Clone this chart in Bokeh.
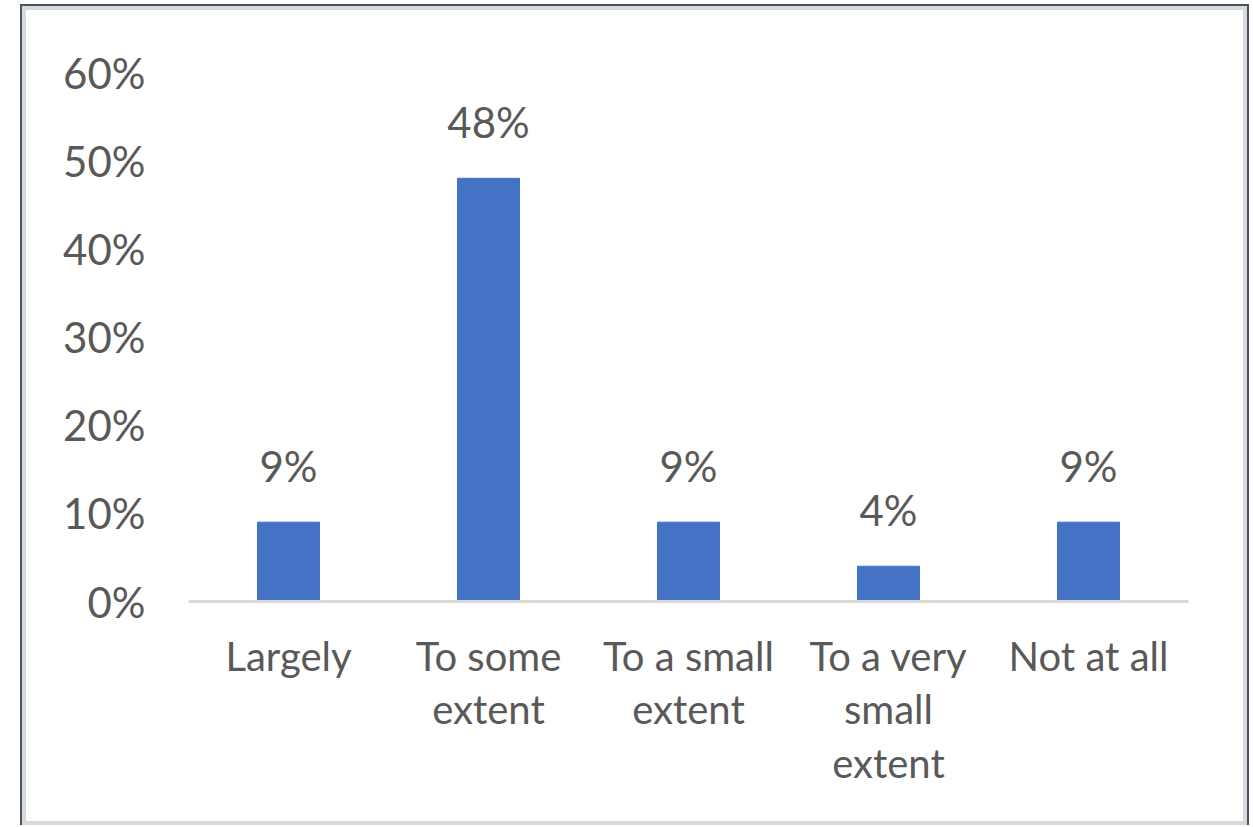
from bokeh.plotting import figure
from bokeh.models import ColumnDataSource, NumeralTickFormatter, Range1d, FixedTicker
from bokeh.core.properties import value
from bokeh.embed import file_html
from bokeh.resources import INLINE

# Survey responses (share of respondents)
categories = ["Largely", "To some\nextent", "To a small\nextent", "To a very\nsmall\nextent", "Not at all"]
shares = [0.09, 0.48, 0.09, 0.04, 0.09]
share_labels = ["9%", "48%", "9%", "4%", "9%"]
y_ticks = [0.0, 0.1, 0.2, 0.3, 0.4, 0.5, 0.6]

FONT = "Lato"
TEXT_COLOR = "#595959"
BAR_COLOR = "#4472C4"
AXIS_COLOR = "#D9D9D9"

source = ColumnDataSource(data=dict(cat=categories, share=shares, label=share_labels))

p = figure(
    x_range=categories,
    y_range=Range1d(0, 0.6),
    width=1229,
    height=821,
    output_backend="svg",
    toolbar_location=None,
    min_border_left=166,
    min_border_right=63,
    min_border_top=66,
    min_border_bottom=226,
    border_fill_color=None,
    background_fill_color=None,
    outline_line_color=None,
)

p.styles = {
    "margin-left": "20px",
    "margin-top": "4px",
    "border-left": "2px solid #44546A",
    "border-right": "2px solid #44546A",
    "border-top": "2px solid #44546A",
    "box-shadow": "inset 4px 4px 0 0 #D9D9D9, inset -4px -4px 0 0 #D9D9D9",
    "background": "white",
}

p.vbar(x="cat", top="share", width=0.31, source=source,
       fill_color=BAR_COLOR, line_color=BAR_COLOR)

p.text(x="cat", y="share", text="label", source=source,
       text_align="center", text_baseline="alphabetic", y_offset=-56,
       text_font=value(FONT), text_font_size="42px", text_color=TEXT_COLOR)

p.xgrid.grid_line_color = None
p.ygrid.grid_line_color = None

# Value axis
p.yaxis.ticker = FixedTicker(ticks=y_ticks)
p.yaxis.formatter = NumeralTickFormatter(format="0%")
p.yaxis.axis_line_color = None
p.yaxis.major_tick_line_color = None
p.yaxis.minor_tick_line_color = None
p.yaxis.major_tick_out = 0
p.yaxis.major_tick_in = 0
p.yaxis.major_label_standoff = 43
p.yaxis.major_label_text_font = FONT
p.yaxis.major_label_text_font_size = "42px"
p.yaxis.major_label_text_color = TEXT_COLOR

# Category axis
p.xaxis.axis_line_color = AXIS_COLOR
p.xaxis.axis_line_width = 3
p.xaxis.major_tick_line_color = None
p.xaxis.major_tick_out = 0
p.xaxis.major_tick_in = 0
p.xaxis.major_label_standoff = 30
p.xaxis.major_label_text_font = FONT
p.xaxis.major_label_text_font_size = "40px"
p.xaxis.major_label_text_color = TEXT_COLOR
p.xaxis.major_label_text_line_height = 1.12
p.x_range.range_padding = 0.0

open("out.html", "w").write(file_html(p, INLINE))
